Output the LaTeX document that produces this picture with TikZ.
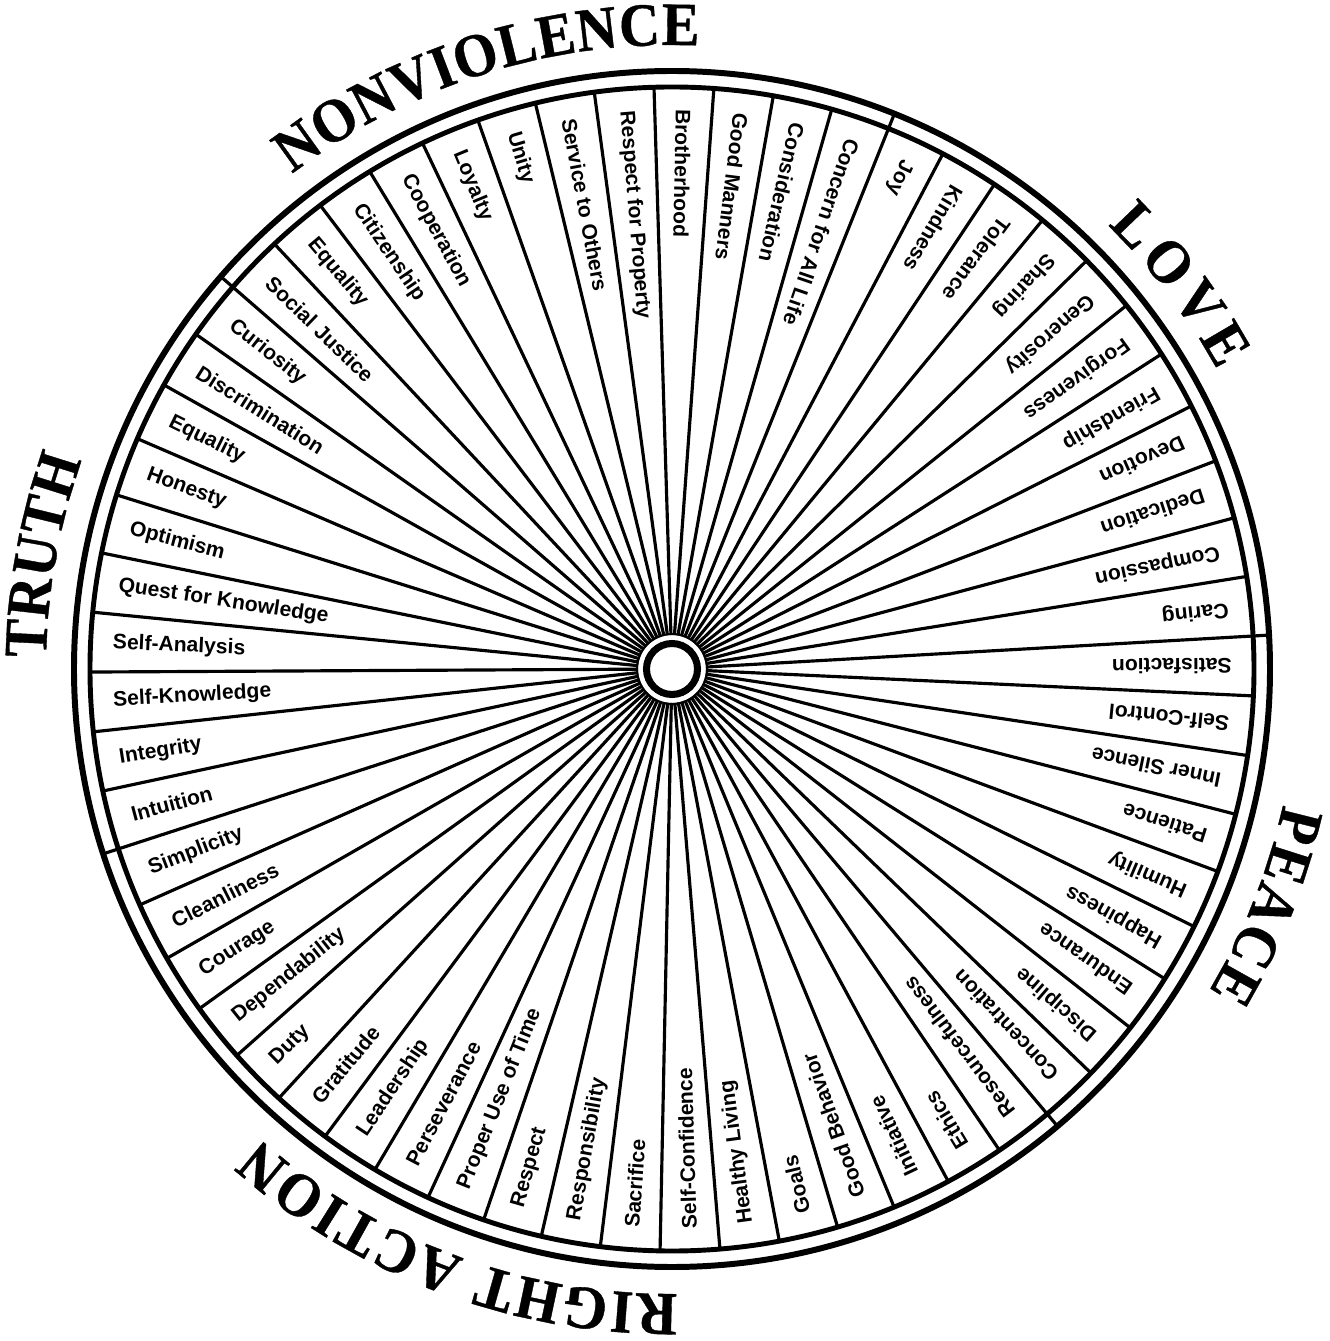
\documentclass[tikz,border=0pt]{standalone}
\usepackage{fontspec}
\usetikzlibrary{decorations.text}
\newfontfamily\valuefont{Liberation Sans}
\newfontfamily\headfont{Liberation Serif}[FakeStretch=0.92, FakeBold=0.6]

\begin{document}
\begin{tikzpicture}[x=0.02cm, y=0.02cm,
  spoke/.style={line width=1.8pt},
  value/.style={font=\valuefont\bfseries\fontsize{12}{12}\selectfont, inner sep=0pt, anchor=west},
  heading/.style={decorate, decoration={text along path, text align={fit to path},
    text={|\headfont\bfseries\fontsize{35}{35}\selectfont|#1}}}]
  \useasboundingbox (-672,-672) rectangle (657,669);

  % hub
  \draw[line width=4pt] (0,0) circle (25.5);
  \draw[line width=1.2pt] (0,0) circle (35);

  % spokes, 61 sectors of 5.9016 deg
  \foreach \k in {0,...,60}
    \draw[spoke] ({3.25+\k*5.901639}:34) -- ({3.25+\k*5.901639}:582);

  % rim
  \draw[line width=2.8pt] (0,0) circle (582);
  \draw[line width=3.4pt] (0,0) circle (598);
  \foreach \k in {0,11,23,33,52}
    \draw[spoke] ({3.25+\k*5.901639}:582) -- ({3.25+\k*5.901639}:598);

  % values, counter-clockwise from Caring
  \foreach \name [count=\i from 0] in {Caring, Compassion, Dedication, Devotion,
      Friendship, Forgiveness, Generosity, Sharing, Tolerance, Kindness, Joy,
      Concern for All Life, Consideration, Good Manners, Brotherhood,
      Respect for Property, Service to Others, Unity, Loyalty, Cooperation,
      Citizenship, Equality, Social Justice, Curiosity, Discrimination, Equality,
      Honesty, Optimism, Quest for Knowledge, Self-Analysis, Self-Knowledge,
      Integrity, Intuition, Simplicity, Cleanliness, Courage, Dependability, Duty,
      Gratitude, Leadership, Perseverance, Proper Use of Time, Respect,
      Responsibility, Sacrifice, Self-Confidence, Healthy Living, Goals,
      Good Behavior, Initiative, Ethics, Resourcefulness, Concentration,
      Discipline, Endurance, Happiness, Humility, Patience, Inner Silence,
      Self-Control, Satisfaction}
    \node[value, rotate={183.25+(\i+0.5)*5.901639}] (v\i) at ({3.25+(\i+0.5)*5.901639}:560) {\name};

  % headings
  \path[heading=NONVIOLENCE] (127.5:624) arc[start angle=127.5, end angle=87.5, radius=624];
  \path[heading=LOVE] (45.5:622) arc[start angle=45.5, end angle=28.7, radius=622];
  \path[heading=PEACE] (-12.5:626) arc[start angle=-12.5, end angle=-31, radius=626];
  \path[heading=RIGHT ACTION] (270.5:625) arc[start angle=270.5, end angle=228.7, radius=625];
  \path[heading=TRUTH] (179:626) arc[start angle=179, end angle=160.5, radius=626];
\end{tikzpicture}
\end{document}
